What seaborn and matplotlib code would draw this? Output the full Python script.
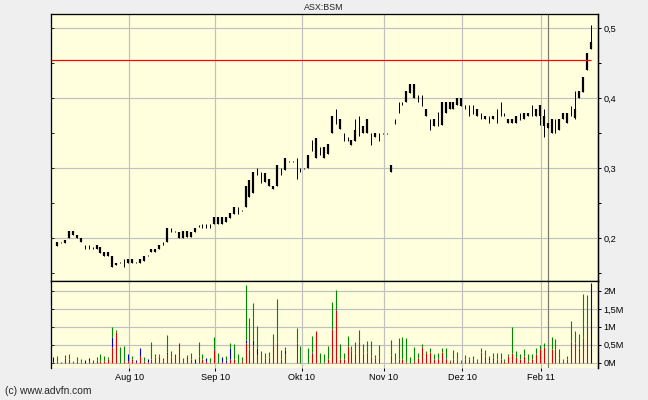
import numpy as np
import pandas as pd
import matplotlib
matplotlib.use("Agg")
import matplotlib.pyplot as plt
import seaborn as sns

nan = np.nan

# -----------------------------
# Data (one entry per session, index 0 = volume only)
# -----------------------------
hi = [nan, .195, .195, .198, .210, .210, .205, .200, .190, .190,
      .188, .190, .188, .180, .180, .174, .165, .166, .170, .170,
      .170, .166, .170, .175, .176, .185, .185, .190, .195, .214,
      .214, .211, .209, .210, .210, .209, .214, .219, .220, .220,
      .220, .231, .231, .231, .231, .236, .245, .245, .241, .275,
      .283, .295, .300, .295, .293, .284, .275, .305, .300, .315,
      .311, .311, .315, .300, .301, .319, .340, .343, .331, .331,
      .335, .374, .384, .370, .350, .345, .341, .370, .375, .360,
      .370, .351, .351, .351, .351, .351, .305, .370, .395, .395,
      .411, .420, .420, .405, .405, .384, .370, .370, .381, .394,
      .395, .395, .395, .400, .400, .390, .390, .390, .384, .379,
      .375, .375, .375, .384, .394, .379, .370, .370, .375, .379,
      .379, .379, .390, .384, .390, .385, .365, .370, .370, .370,
      .379, .379, .389, .411, .411, .430, .465, .505]
lo = [nan, .189, .193, .193, .200, .204, .200, .194, .184, .184,
      .184, .184, .179, .174, .174, .159, .162, .164, .159, .164,
      .164, .164, .164, .167, .174, .180, .180, .184, .190, .194,
      .209, .209, .200, .200, .202, .202, .209, .216, .214, .214,
      .214, .220, .220, .220, .223, .229, .235, .235, .239, .244,
      .259, .264, .290, .279, .281, .274, .270, .274, .290, .298,
      .309, .309, .284, .295, .299, .300, .324, .314, .319, .314,
      .320, .350, .363, .356, .339, .339, .333, .339, .346, .350,
      .351, .333, .344, .339, .349, .349, .294, .363, .379, .390,
      .394, .407, .400, .394, .389, .374, .354, .360, .360, .362,
      .379, .384, .384, .390, .389, .384, .374, .377, .374, .370,
      .370, .364, .370, .364, .374, .375, .364, .364, .364, .369,
      .370, .374, .374, .374, .362, .344, .358, .350, .350, .355,
      .370, .364, .374, .370, .400, .409, .440, .471]
op = [nan, .195, .194, .198, .210, .210, .205, .200, .187, .187,
      .186, .190, .188, .180, .180, .174, .165, .165, .165, .170,
      .170, .165, .170, .175, .175, .185, .185, .190, .192, .214,
      .211, .210, .209, .210, .210, .209, .214, .218, .217, .217,
      .217, .231, .231, .231, .231, .236, .245, .240, .240, .275,
      .283, .295, .295, .287, .293, .284, .275, .305, .295, .315,
      .310, .310, .300, .297, .300, .319, .332, .343, .325, .331,
      .335, .374, .373, .370, .345, .342, .341, .355, .360, .360,
      .370, .342, .351, .345, .350, .350, .305, .366, .387, .392,
      .411, .420, .420, .400, .397, .384, .362, .370, .370, .394,
      .395, .395, .395, .400, .400, .387, .382, .383, .384, .374,
      .375, .370, .375, .374, .384, .377, .370, .370, .375, .374,
      .379, .379, .382, .384, .390, .375, .365, .370, .360, .370,
      .379, .379, .381, .385, .411, .430, .465, .481]
cl = [nan, .189, .194, .193, .200, .204, .200, .194, .187, .187,
      .186, .184, .179, .174, .174, .159, .162, .165, .165, .164,
      .164, .165, .164, .167, .175, .180, .180, .184, .192, .194,
      .211, .210, .200, .200, .202, .202, .209, .218, .217, .217,
      .217, .220, .220, .220, .223, .229, .235, .240, .240, .244,
      .259, .264, .295, .287, .281, .274, .270, .274, .295, .298,
      .310, .310, .300, .297, .300, .300, .332, .314, .325, .314,
      .320, .350, .373, .356, .345, .342, .333, .339, .360, .350,
      .351, .342, .344, .345, .350, .350, .294, .366, .387, .392,
      .394, .407, .400, .400, .397, .374, .362, .360, .370, .362,
      .379, .384, .384, .390, .389, .387, .382, .383, .374, .374,
      .370, .370, .370, .374, .384, .377, .364, .364, .364, .374,
      .370, .374, .382, .374, .374, .360, .358, .350, .360, .355,
      .370, .364, .381, .372, .400, .409, .440, .471]

# volume in millions, split by colour (red bottom, blue middle, green top)
vol_red = [.02, .06, .03, .14, .10, .02, .05, .02, 0, .06,
           .07, .08, .05, .06, .10, .45, .85, 0, .05, .05,
           .10, .03, .20, .05, .03, .10, .15, .18, .05, .24,
           .15, .24, .56, 0, .10, .10, 0, .18, .10, .04,
           .02, .35, 0, .02, .02, .10, .10, 0, .05, .54,
           .37, .50, .21, 0, .12, .15, .50, .58, .10, .25,
           0, 0, .54, 0, 0, 0, .26, .89, 0, .02,
           .10, .93, 1.47, .10, .10, .47, .34, .26, .60, .26,
           .28, .15, .12, .15, 0, 0, .21, .02, .10, .10,
           .03, 0, .05, .12, .43, .28, .30, .10, .10, .30,
           .10, .04, .10, .08, .02, .10, .10, .08, .04, .30,
           .20, .08, .15, .10, .10, .04, .20, .26, .15, .10,
           .20, .05, .10, .25, .37, .45, 0, .37, .37, .12,
           .06, .10, .58, .54, .42, .68, 1.00, 0]
vol_blue = [.15, 0, 0, 0, 0, 0, 0, 0, .07, .08,
            0, 0, 0, 0, 0, .26, 0, 0, 0, .19,
            0, .04, .20, 0, .06, 0, 0, 0, 0, .06,
            0, 0, 0, 0, .05, 0, .09, 0, 0, .08,
            0, .04, 0, .15, .06, .30, 0, 0, 0, .10,
            0, .14, .19, 0, 0, 0, 0, 0, 0, .10,
            0, 0, 0, 0, 0, 0, .04, 0, 0, 0,
            0, 0, .03, 0, 0, 0, .02, 0, 0, 0,
            .03, .03, 0, .02, 0, 0, 0, .03, 0, 0,
            0, 0, 0, 0, 0, 0, 0, 0, .02, 0,
            .03, 0, 0, .03, .02, 0, 0, .03, .02, 0,
            0, .05, 0, 0, 0, 0, 0, .02, 0, 0,
            0, 0, 0, 0, 0, 0, 0, .02, 0, 0,
            0, 0, .03, 0, 0, .04, 0, 2.21]
vol_green = [0, .13, 0, .07, .14, .03, .12, .07, 0, 0,
             0, .09, .19, .13, .05, .29, .06, .45, .42, 0,
             .09, 0, 0, .12, 0, .47, .09, .06, .07, .47,
             .18, 0, 0, .12, .06, .16, 0, .39, .14, 0,
             .10, .32, .28, 0, .11, .16, .42, .24, .10, 1.53,
             .87, 1.03, .62, .33, .14, .16, .30, 1.20, .25, .10,
             0, 0, .44, .47, 0, .40, .44, 0, .26, .22,
             .37, .77, .53, .42, .16, .27, .11, .33, .31, .26,
             .30, .43, .09, .32, 0, 0, .42, .23, .58, .63,
             .65, .17, .38, .16, .09, .05, .12, .14, .16, .10,
             .29, .03, .25, .20, .03, .11, .07, .08, .03, .12,
             .15, .06, .11, .16, .16, .05, .04, .71, .18, .14,
             .19, .19, .14, .15, .12, .11, 0, .32, .28, .25,
             .03, .09, .55, .34, .38, 1.20, .89, 0]

month_pos = [19.39, 41.33, 63.27, 84.18, 104.18, 124.34]
month_labels = ["Aug 10", "Sep 10", "Okt 10", "Nov 10", "Dez 10", "Feb 11"]
year_line = 126.02
ref_level = 0.454
price_ticks = [0.2, 0.3, 0.4, 0.5]
price_minor = [0.15, 0.25, 0.35, 0.45]
price_labels = ["0,2", "0,3", "0,4", "0,5"]
vol_ticks = [0, 0.5, 1, 1.5, 2]
vol_labels = ["0M", "0,5M", "1M", "1,5M", "2M"]
title = "ASX:BSM"
credit = "(c) www.advfn.com"

df = pd.DataFrame({"hi": hi, "lo": lo, "op": op, "cl": cl,
                   "red": vol_red, "blue": vol_blue, "green": vol_green})
df["x"] = np.arange(len(df))
df["body_top"] = df[["op", "cl"]].max(axis=1)
df["body_bot"] = df[["op", "cl"]].min(axis=1)
df["rb"] = df["red"] + df["blue"]
df["tot"] = df["rb"] + df["green"]

# -----------------------------
# Style
# -----------------------------
sns.set_theme(style="ticks")
plt.rcParams["font.family"] = ["Liberation Sans", "DejaVu Sans"]

BG = "#EFEFEF"
PANEL = "#FFFFDD"
GRID = "#C0C0C0"
PX = 0.72  # one pixel in points

fig = plt.figure(figsize=(6.48, 4.0), dpi=100, facecolor=BG)
ax = fig.add_axes([0.0782, 0.29825, 0.8451, 0.666])
axv = fig.add_axes([0.0782, 0.08125, 0.8451, 0.217], sharex=ax)

for a in (ax, axv):
    a.set_facecolor(PANEL)
    a.set_axisbelow(True)
    for s in a.spines.values():
        s.set_color("black")
        s.set_linewidth(1.3 * PX)
    a.axvline(year_line, color="#7A7A6A", lw=1.2 * PX, zorder=1)
axv.spines["bottom"].set_visible(False)

# -----------------------------
# Price bars
# -----------------------------
ax.vlines(df["x"], df["lo"], df["hi"], color="black", lw=1.0 * PX, zorder=3)
ax.vlines(df["x"], df["body_bot"], df["body_top"], color="black", lw=2.2 * PX, zorder=3)
ax.hlines(ref_level, -0.69, df["x"].iloc[-1], color="#FF0000", lw=1.2 * PX, zorder=4)

ax.set_xlim(-0.69, 138.93)
ax.set_ylim(0.1394, 0.52)
ax.set_xticks(month_pos)
ax.set_yticks(price_ticks)
ax.set_yticks(price_minor, minor=True)
ax.grid(True, which="major", color=GRID, lw=1.2 * PX)
ax.tick_params(axis="x", which="both", length=0, labelbottom=False)
ax.tick_params(axis="y", which="both", direction="in", length=2.5, width=PX,
               left=True, right=False, labelleft=False)

sec = ax.secondary_yaxis("right")
sec.set_yticks(price_ticks, labels=price_labels)
sec.set_yticks(price_minor, minor=True)
sec.tick_params(which="both", direction="out", length=2.5, width=PX,
                pad=1.0, labelsize=6.6, colors="black")
sec.spines["right"].set_linewidth(1.3 * PX)

# -----------------------------
# Volume bars
# -----------------------------
axv.vlines(df["x"], 0, df["red"], color="#E00000", lw=1.1 * PX, zorder=3)
axv.vlines(df["x"], df["red"], df["rb"], color="#0000C8", lw=1.1 * PX, zorder=3)
axv.vlines(df["x"], df["rb"], df["tot"], color="#008800", lw=1.1 * PX, zorder=3)

axv.set_ylim(-0.134, 2.287)
axv.set_yticks(vol_ticks)
axv.grid(True, which="major", color=GRID, lw=1.2 * PX)
axv.set_xticks(month_pos, labels=month_labels)
axv.tick_params(axis="x", direction="out", length=2.5, width=PX, pad=1.5,
                labelsize=6.6, colors="black")
axv.tick_params(axis="y", direction="in", length=2.5, width=PX,
                left=True, right=False, labelleft=False)

secv = axv.secondary_yaxis("right")
secv.set_yticks(vol_ticks, labels=vol_labels)
secv.tick_params(direction="out", length=2.5, width=PX, pad=1.0,
                 labelsize=6.6, colors="black")
secv.spines["right"].set_linewidth(1.3 * PX)

fig.text(0.5, 0.98, title, ha="center", va="center", fontsize=6.4)
fig.text(0.008, 0.0225, credit, ha="left", va="center", fontsize=7.4)

fig.savefig("out.png", dpi=100, facecolor=BG)
